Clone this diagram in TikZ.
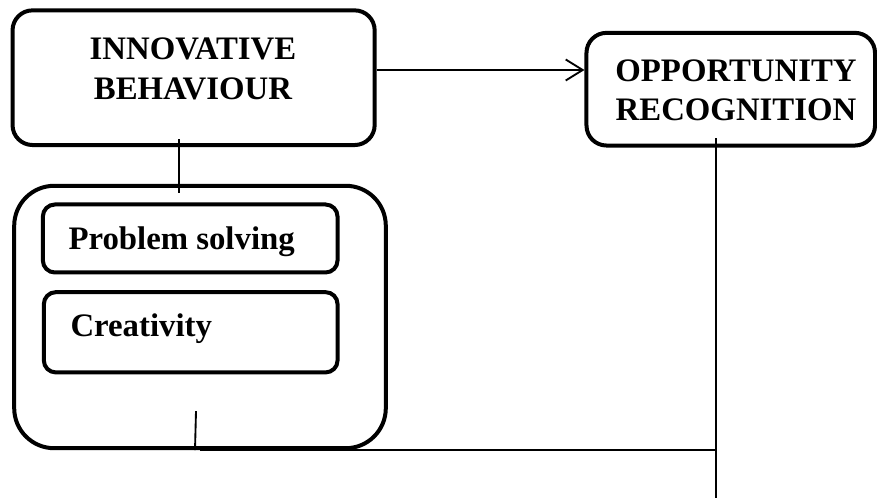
\documentclass[tikz,border=0pt]{standalone}
\usepackage{fontspec}
\setmainfont{Liberation Serif}
\usetikzlibrary{arrows.meta,calc}

\tikzset{every picture/.style={line width=0.75pt}}
\tikzset{
  roundbox/.style={draw, line width=3pt, rounded corners=#1, inner sep=0pt},
  roundbox/.default=15pt,
  boxtext/.style={font=\fontsize{24.6}{29.5}\selectfont\bfseries, inner sep=0pt, align=center},
  conn/.style={line width=1.4pt},
}

\begin{document}
\begin{tikzpicture}[x=0.75pt,y=0.75pt,yscale=-1,xscale=1]
\useasboundingbox (0,0) rectangle (877,498);

%Shape: Rounded Rect
\node[roundbox=15pt, minimum width=271.6pt, minimum height=101pt] (inno) at (193.6,77.7) {};
%Shape: Rounded Rect
\node[roundbox=15pt, minimum width=216.4pt, minimum height=84.5pt] (opp) at (730.75,89.2) {};
%Shape: Rounded Rect
\node[roundbox=30pt, minimum width=278.7pt, minimum height=196.8pt] (grp) at (200,317) {};
%Shape: Rounded Rect
\node[roundbox=9pt, minimum width=221pt, minimum height=51pt] (ps) at (190.2,238.5) {};
%Shape: Rounded Rect
\node[roundbox=9pt, minimum width=220.3pt, minimum height=60.2pt] (cr) at (190.7,332.3) {};

\coordinate (tipstart) at ($(inno.east)+(0,-7.7)$);
\coordinate (innodrop) at ($(inno.south)+(-14.3,-8)$);
\coordinate (grprise) at ($(grp.south)+(-4,-39)$);
\coordinate (oppdrop) at ($(opp.south)+(-14.75,-9.5)$);
\coordinate (oppend) at ($(opp.south)+(-14.75,350)$);

%Straight Lines
\draw [conn,-{Straight Barb[length=12.75pt,width=15.75pt]}] (tipstart) -- (tipstart -| opp.west);
%Straight Lines
\draw [conn] (innodrop) -- ($(innodrop |- grp.north)+(0,9.5)$);
%Straight Lines
\draw [conn] (grprise) -- ($(grp.south)+(-5,0)$);
%Straight Lines
\draw [conn] (oppdrop) -- (oppend);
%Straight Lines
\draw [conn] (grp.south) -- (grp.south -| oppdrop);

% Text Node
\node[boxtext] (innolabel) at (193,69) {INNOVATIVE\\BEHAVIOUR};
% Text Node
\node[boxtext] (opplabel) at (736,90) {OPPORTUNITY\\RECOGNITION};
% Text Node
\node[boxtext, anchor=base west] (pslabel) at (68,250) {Problem solving};
% Text Node
\node[boxtext, anchor=base west] (crlabel) at (70,336.5) {Creativity};

\end{tikzpicture}
\end{document}
